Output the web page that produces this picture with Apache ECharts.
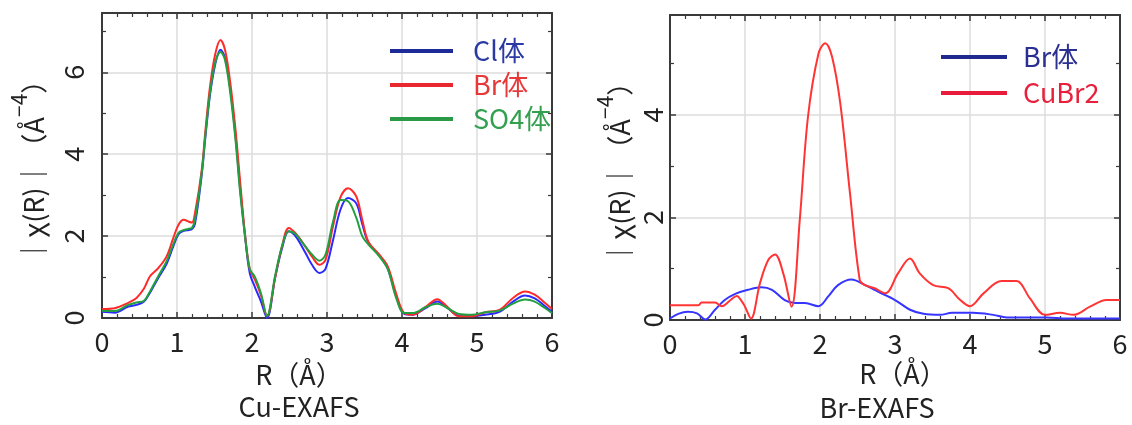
<!DOCTYPE html>
<html>
<head>
<meta charset="utf-8">
<script src="https://cdn.jsdelivr.net/npm/echarts@6/dist/echarts.min.js"></script>
<style>
html,body{margin:0;padding:0;background:#fff;}
#c{width:1132px;height:425px;}
</style>
</head>
<body>
<div id="c"></div>
<script>
// ---------- Data ----------
// Cu-EXAFS : R (Å) sample points shared by the three curves
const rCu = [0, 0.17, 0.35, 0.46, 0.56, 0.64, 0.75, 0.86, 0.95, 1.02, 1.09, 1.16, 1.2, 1.24,
  1.33, 1.38, 1.44, 1.51, 1.58, 1.64, 1.71, 1.78, 1.84, 1.91, 1.97, 2.04, 2.12, 2.2,
  2.31, 2.4, 2.49, 2.58, 2.71, 2.8, 2.9, 2.98, 3.08, 3.18, 3.28, 3.39, 3.47, 3.55, 3.7, 3.81, 3.92,
  4.03, 4.14, 4.32, 4.47, 4.6, 4.76, 4.93, 5.11, 5.3, 5.48, 5.64, 5.77, 5.9, 6.0];
const cuCl = [0.15, 0.13, 0.28, 0.32, 0.4, 0.62, 0.98, 1.32, 1.75, 2.05, 2.13, 2.15, 2.17, 2.3,
  3.5, 4.45, 5.45, 6.2, 6.55, 6.35, 5.6, 4.45, 3.2, 1.95, 1.1, 0.75, 0.4, 0.0,
  1.0, 1.7, 2.12, 2.0, 1.6, 1.3, 1.1, 1.2, 1.9, 2.65, 2.93, 2.8, 2.3, 1.85, 1.52, 1.2, 0.55,
  0.1, 0.08, 0.25, 0.4, 0.25, 0.06, 0.05, 0.08, 0.15, 0.4, 0.55, 0.48, 0.3, 0.15];
const cuBr = [0.22, 0.24, 0.37, 0.49, 0.72, 1.02, 1.22, 1.5, 1.95, 2.28, 2.4, 2.35, 2.33, 2.56,
  3.62, 4.6, 5.65, 6.45, 6.79, 6.55, 5.75, 4.6, 3.37, 2.0, 1.2, 0.93, 0.55, 0.05,
  1.0, 1.75, 2.2, 2.07, 1.75, 1.5, 1.3, 1.42, 2.24, 2.95, 3.17, 2.97, 2.4, 1.87, 1.54, 1.26, 0.61,
  0.12, 0.08, 0.28, 0.46, 0.28, 0.04, 0.04, 0.14, 0.2, 0.49, 0.65, 0.57, 0.38, 0.22];
const cuSO4 = [0.18, 0.17, 0.32, 0.38, 0.42, 0.65, 1.02, 1.38, 1.8, 2.08, 2.15, 2.18, 2.2, 2.4,
  3.55, 4.5, 5.5, 6.25, 6.5, 6.3, 5.5, 4.35, 3.1, 1.95, 1.2, 1.0, 0.6, 0.05,
  1.05, 1.75, 2.12, 2.05, 1.75, 1.55, 1.4, 1.55, 2.35, 2.88, 2.85, 2.45, 2.0, 1.8, 1.5, 1.2, 0.5,
  0.12, 0.12, 0.27, 0.35, 0.25, 0.1, 0.08, 0.14, 0.18, 0.35, 0.45, 0.4, 0.25, 0.12];

// Br-EXAFS
const rBrBody = [0, 0.11, 0.24, 0.36, 0.47, 0.6, 0.73, 0.87, 1.04, 1.22, 1.36, 1.53, 1.67, 1.8, 1.98,
  2.11, 2.24, 2.42, 2.6, 2.78, 3.0, 3.2, 3.38, 3.6, 3.76, 4.04, 4.31, 4.49, 5.02, 5.29, 6.0];
const brBody = [0.03, 0.12, 0.16, 0.13, 0.01, 0.2, 0.39, 0.51, 0.59, 0.64, 0.59, 0.39, 0.33, 0.33, 0.27,
  0.46, 0.68, 0.79, 0.68, 0.55, 0.39, 0.2, 0.12, 0.1, 0.14, 0.14, 0.1, 0.05, 0.05, 0.03, 0.03];
const rCuBr2 = [0, 0.38, 0.42, 0.6, 0.69, 0.8, 0.89, 0.96, 1.0, 1.08, 1.2, 1.31, 1.4, 1.51, 1.62,
  1.73, 1.84, 1.98, 2.07, 2.16, 2.27, 2.4, 2.53, 2.6, 2.73, 2.87, 3.04, 3.2, 3.33, 3.51, 3.71,
  3.87, 4.0, 4.18, 4.42, 4.62, 4.8, 5.0, 5.2, 5.38, 5.6, 5.82, 6.0];
const cuBr2 = [0.29, 0.29, 0.34, 0.34, 0.27, 0.38, 0.47, 0.36, 0.26, 0.03, 0.72, 1.17, 1.28, 0.91, 0.26,
  1.95, 3.97, 5.2, 5.4, 5.14, 4.23, 2.47, 0.78, 0.68, 0.62, 0.52, 0.91, 1.2, 0.91, 0.68, 0.62,
  0.39, 0.27, 0.52, 0.76, 0.76, 0.42, 0.1, 0.14, 0.1, 0.26, 0.39, 0.39];

const xTicks = { min: 0, max: 6, interval: 1 };
const yLeft = { min: 0, max: 7.45, interval: 2 };
const yRight = { min: 0, max: 5.95, interval: 2 };

// ---------- Styling ----------
const FONT = '"Noto Sans CJK JP", "Noto Sans", sans-serif';
const AX = '#3a3a3a';
const TXT = '#222';
const FS = 27;

function zip(xs, ys) { return xs.map((x, i) => [x, ys[i]]); }

function xAxes(g) {
  const base = {
    type: 'value', gridIndex: g, min: xTicks.min, max: xTicks.max, interval: xTicks.interval,
    axisLine: { show: true, onZero: false, lineStyle: { color: AX, width: 2 } },
    axisTick: { show: true, inside: true, length: 6, lineStyle: { color: AX, width: 1.5 } },
    minorTick: { show: true, splitNumber: 5, length: 4, lineStyle: { color: AX, width: 1.2 } },
  };
  return [
    Object.assign({}, base, {
      position: 'bottom',
      axisLabel: { show: true, margin: 10, fontSize: FS, color: TXT, fontFamily: FONT },
      splitLine: { show: true, lineStyle: { color: '#dcdcdc', width: 1.5 } },
    }),
    Object.assign({}, base, {
      position: 'top',
      axisLabel: { show: false },
      splitLine: { show: false },
    }),
  ];
}

function yAxes(g, cfg, labelMargin, nameGap) {
  const base = {
    type: 'value', gridIndex: g, min: cfg.min, max: cfg.max, interval: cfg.interval,
    axisLine: { show: true, onZero: false, lineStyle: { color: AX, width: 2 } },
    axisTick: { show: true, inside: true, length: 6, lineStyle: { color: AX, width: 1.5 } },
    minorTick: { show: true, splitNumber: 2, length: 4, lineStyle: { color: AX, width: 1.2 } },
  };
  return [
    Object.assign({}, base, {
      position: 'left',
      axisLabel: { show: true, rotate: 90, margin: labelMargin, fontSize: FS, color: TXT,
        fontFamily: FONT, showMaxLabel: false },
      splitLine: { show: true, lineStyle: { color: '#dcdcdc', width: 1.5 } },
      name: '{a|｜χ(R)｜（Å}{s|−4}{a|）}',
      nameLocation: 'middle',
      nameRotate: 90,
      nameGap: nameGap,
      nameTextStyle: {
        color: TXT, fontFamily: FONT,
        rich: {
          a: { fontSize: FS, lineHeight: 38, color: TXT, fontFamily: FONT, verticalAlign: 'bottom' },
          s: { fontSize: 21, lineHeight: 20, color: TXT, fontFamily: FONT, verticalAlign: 'top' },
        },
      },
    }),
    Object.assign({}, base, {
      position: 'right',
      axisLabel: { show: false },
      splitLine: { show: false },
    }),
  ];
}

function line(name, xs, ys, xi, yi, color) {
  return {
    type: 'line', name: name, data: zip(xs, ys), xAxisIndex: xi, yAxisIndex: yi,
    symbol: 'none', showSymbol: false, smooth: 0.35,
    lineStyle: { color: color, width: 2 }, itemStyle: { color: color },
    z: 3,
  };
}

function legendItem(name, lineColor, textColor) {
  return { name: name, icon: 'rect', itemStyle: { color: lineColor, borderWidth: 0 },
    textStyle: { color: textColor } };
}

const option = {
  animation: false,
  backgroundColor: '#fff',
  textStyle: { fontFamily: FONT },
  grid: [
    { left: 102, top: 13, width: 450, height: 305 },
    { left: 670, top: 15, width: 450, height: 305 },
  ],
  xAxis: xAxes(0).concat(xAxes(1)),
  yAxis: yAxes(0, yLeft, 15, 55).concat(yAxes(1, yRight, 4, 37)),
  legend: [
    {
      left: 390, top: 34, orient: 'vertical', padding: 0, itemGap: 0,
      itemWidth: 63, itemHeight: 4, selectedMode: false, icon: 'rect',
      textStyle: { fontSize: FS, fontFamily: FONT, lineHeight: 34, padding: [0, 0, 0, 15] },
      data: [
        legendItem('Cl体', '#1f2a99', '#2b3aa3'),
        legendItem('Br体', '#e8282e', '#e63a3a'),
        legendItem('SO4体', '#2a9a46', '#33a050'),
      ],
    },
    {
      left: 941, top: 39, orient: 'vertical', padding: 0, itemGap: 0,
      itemWidth: 66, itemHeight: 4, selectedMode: false, icon: 'rect',
      textStyle: { fontSize: FS, fontFamily: FONT, lineHeight: 36, padding: [0, 0, 0, 11] },
      data: [
        legendItem('Br体', '#1f2a8f', '#2a2f92'),
        legendItem('CuBr2', '#e81c3a', '#e8203c'),
      ],
    },
  ],
  series: [
    line('Cl体', rCu, cuCl, 0, 0, '#2a2aff'),
    line('Br体', rCu, cuBr, 0, 0, '#ff2a2a'),
    line('SO4体', rCu, cuSO4, 0, 0, '#22a040'),
    line('Br体', rBrBody, brBody, 2, 2, '#3535ff'),
    line('CuBr2', rCuBr2, cuBr2, 2, 2, '#ff3535'),
  ],
  graphic: [
    { type: 'text', x: 299, y: 375, style: { text: 'R（Å）', font: FS + 'px ' + FONT, fill: TXT, align: 'center', verticalAlign: 'middle' } },
    { type: 'text', x: 299, y: 407, style: { text: 'Cu-EXAFS', font: FS + 'px ' + FONT, fill: TXT, align: 'center', verticalAlign: 'middle' } },
    { type: 'text', x: 903, y: 374, style: { text: 'R（Å）', font: FS + 'px ' + FONT, fill: TXT, align: 'center', verticalAlign: 'middle' } },
    { type: 'text', x: 877, y: 408, style: { text: 'Br-EXAFS', font: FS + 'px ' + FONT, fill: TXT, align: 'center', verticalAlign: 'middle' } },
  ],
};

const chart = echarts.init(document.getElementById('c'), null, { renderer: 'canvas' });
chart.setOption(option);
</script>
</body>
</html>
